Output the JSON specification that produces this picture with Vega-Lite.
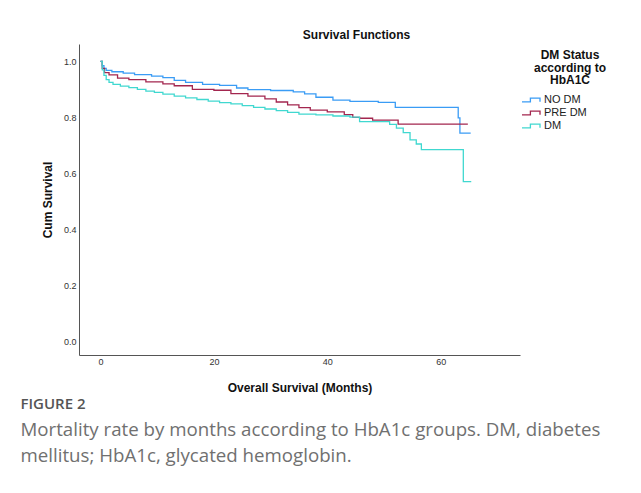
{
  "$schema": "https://vega.github.io/schema/vega-lite/v6.json",
  "background": "white",
  "padding": {"left": 20, "top": 29, "right": 5, "bottom": 5},
  "title": {
    "text": "FIGURE 2",
    "subtitle": ["Mortality rate by months according to HbA1c groups. DM, diabetes", "mellitus; HbA1c, glycated hemoglobin."],
    "orient": "bottom",
    "anchor": "start",
    "frame": "bounds",
    "dx": -21,
    "offset": 4,
    "font": "Open Sans",
    "fontSize": 15,
    "fontWeight": 600,
    "color": "#555555",
    "subtitleFont": "Open Sans",
    "subtitleFontSize": 18.7,
    "subtitleColor": "#707070",
    "subtitleLineHeight": 26,
    "subtitlePadding": 9
  },
  "vconcat": [
    {
      "width": 441,
      "height": 311,
      "title": {
        "text": "Survival Functions",
        "anchor": "middle",
        "frame": "group",
        "dx": 57,
        "offset": 2,
        "font": "Liberation Sans",
        "fontSize": 12,
        "fontWeight": "bold",
        "color": "#111111"
      },
      "data": {
        "values": [
          {"g": "NO DM", "m": 0, "s": 1.0},
          {"g": "NO DM", "m": 0.3, "s": 0.985},
          {"g": "NO DM", "m": 0.6, "s": 0.975},
          {"g": "NO DM", "m": 1, "s": 0.968},
          {"g": "NO DM", "m": 2, "s": 0.963},
          {"g": "NO DM", "m": 4, "s": 0.958},
          {"g": "NO DM", "m": 6, "s": 0.953},
          {"g": "NO DM", "m": 9, "s": 0.947},
          {"g": "NO DM", "m": 11, "s": 0.942},
          {"g": "NO DM", "m": 13, "s": 0.932},
          {"g": "NO DM", "m": 15, "s": 0.925},
          {"g": "NO DM", "m": 18, "s": 0.918},
          {"g": "NO DM", "m": 21, "s": 0.914},
          {"g": "NO DM", "m": 24, "s": 0.905},
          {"g": "NO DM", "m": 26, "s": 0.899},
          {"g": "NO DM", "m": 30, "s": 0.896},
          {"g": "NO DM", "m": 34, "s": 0.891},
          {"g": "NO DM", "m": 36, "s": 0.884},
          {"g": "NO DM", "m": 38, "s": 0.872},
          {"g": "NO DM", "m": 41, "s": 0.862},
          {"g": "NO DM", "m": 44, "s": 0.857},
          {"g": "NO DM", "m": 49, "s": 0.854},
          {"g": "NO DM", "m": 52, "s": 0.836},
          {"g": "NO DM", "m": 63.1, "s": 0.798},
          {"g": "NO DM", "m": 63.4, "s": 0.744},
          {"g": "NO DM", "m": 65.3, "s": 0.744},
          {"g": "PRE DM", "m": 0, "s": 1.0},
          {"g": "PRE DM", "m": 0.3, "s": 0.975},
          {"g": "PRE DM", "m": 0.7, "s": 0.96},
          {"g": "PRE DM", "m": 1.5, "s": 0.952},
          {"g": "PRE DM", "m": 3, "s": 0.94},
          {"g": "PRE DM", "m": 5, "s": 0.935},
          {"g": "PRE DM", "m": 8, "s": 0.927},
          {"g": "PRE DM", "m": 11, "s": 0.92},
          {"g": "PRE DM", "m": 13, "s": 0.913},
          {"g": "PRE DM", "m": 16.2, "s": 0.9},
          {"g": "PRE DM", "m": 20, "s": 0.897},
          {"g": "PRE DM", "m": 23, "s": 0.885},
          {"g": "PRE DM", "m": 26, "s": 0.876},
          {"g": "PRE DM", "m": 29, "s": 0.866},
          {"g": "PRE DM", "m": 31, "s": 0.855},
          {"g": "PRE DM", "m": 33, "s": 0.845},
          {"g": "PRE DM", "m": 35, "s": 0.835},
          {"g": "PRE DM", "m": 37, "s": 0.826},
          {"g": "PRE DM", "m": 40, "s": 0.82},
          {"g": "PRE DM", "m": 43, "s": 0.81},
          {"g": "PRE DM", "m": 44.5, "s": 0.8},
          {"g": "PRE DM", "m": 45.7, "s": 0.797},
          {"g": "PRE DM", "m": 48, "s": 0.79},
          {"g": "PRE DM", "m": 52.5, "s": 0.776},
          {"g": "PRE DM", "m": 64.8, "s": 0.776},
          {"g": "DM", "m": 0, "s": 1.0},
          {"g": "DM", "m": 0.3, "s": 0.97},
          {"g": "DM", "m": 0.6, "s": 0.95},
          {"g": "DM", "m": 1, "s": 0.935},
          {"g": "DM", "m": 1.5, "s": 0.925},
          {"g": "DM", "m": 2.2, "s": 0.918},
          {"g": "DM", "m": 3.5, "s": 0.912},
          {"g": "DM", "m": 5, "s": 0.906},
          {"g": "DM", "m": 6.5, "s": 0.9},
          {"g": "DM", "m": 8, "s": 0.894},
          {"g": "DM", "m": 9.5, "s": 0.889},
          {"g": "DM", "m": 11, "s": 0.883},
          {"g": "DM", "m": 13, "s": 0.876},
          {"g": "DM", "m": 15, "s": 0.87},
          {"g": "DM", "m": 17, "s": 0.864},
          {"g": "DM", "m": 19, "s": 0.858},
          {"g": "DM", "m": 21, "s": 0.853},
          {"g": "DM", "m": 23, "s": 0.848},
          {"g": "DM", "m": 25, "s": 0.842},
          {"g": "DM", "m": 27, "s": 0.836},
          {"g": "DM", "m": 29, "s": 0.83},
          {"g": "DM", "m": 31, "s": 0.824},
          {"g": "DM", "m": 33, "s": 0.818},
          {"g": "DM", "m": 35, "s": 0.812},
          {"g": "DM", "m": 38, "s": 0.809},
          {"g": "DM", "m": 41, "s": 0.805},
          {"g": "DM", "m": 44, "s": 0.801},
          {"g": "DM", "m": 45.7, "s": 0.785},
          {"g": "DM", "m": 51, "s": 0.775},
          {"g": "DM", "m": 52.2, "s": 0.762},
          {"g": "DM", "m": 53.4, "s": 0.746},
          {"g": "DM", "m": 54.6, "s": 0.72},
          {"g": "DM", "m": 55.7, "s": 0.705},
          {"g": "DM", "m": 56.6, "s": 0.685},
          {"g": "DM", "m": 64, "s": 0.571},
          {"g": "DM", "m": 65.4, "s": 0.571}
        ]
      },
      "mark": {"type": "line", "interpolate": "step-after", "strokeWidth": 1.3},
      "encoding": {
        "x": {
          "field": "m",
          "type": "quantitative",
          "scale": {"domain": [-3.8, 74], "nice": false, "zero": false},
          "axis": {
            "title": "Overall Survival (Months)",
            "values": [0, 20, 40, 60],
            "ticks": false,
            "grid": false,
            "labelPadding": 2,
            "titlePadding": 16
          }
        },
        "y": {
          "field": "s",
          "type": "quantitative",
          "scale": {"domain": [-0.048, 1.062], "nice": false, "zero": false},
          "axis": {
            "title": "Cum Survival",
            "values": [0, 0.2, 0.4, 0.6, 0.8, 1.0],
            "format": ".1f",
            "ticks": false,
            "grid": false,
            "labelPadding": 3,
            "titlePadding": 9
          }
        },
        "color": {
          "field": "g",
          "type": "nominal",
          "scale": {"domain": ["NO DM", "PRE DM", "DM"], "range": ["#3a9cf5", "#a3264f", "#40d8d0"]},
          "legend": {
            "title": ["DM Status", "according to", "HbA1C"],
            "orient": "none",
            "legendX": 445,
            "legendY": 6,
            "titleFont": "Liberation Sans",
            "titleFontSize": 12,
            "titleFontWeight": "bold",
            "titleColor": "#111111",
            "titleAlign": "center",
            "titleAnchor": "middle",
            "titleLineHeight": 12.5,
            "titlePadding": 6,
            "labelFont": "Liberation Sans",
            "labelFontSize": 11,
            "labelColor": "#222222",
            "labelOffset": 6,
            "symbolType": "M-1.5,0.3H-0.1V-0.3H1.5V0.3",
            "symbolSize": 144,
            "symbolStrokeWidth": 1.3,
            "symbolFillColor": "transparent",
            "rowPadding": 1,
            "encode": {"title": {"update": {"dx": {"value": 15}}}}
          }
        }
      }
    }
  ],
  "config": {
    "view": {"stroke": null},
    "axis": {
      "domainColor": "#555555",
      "domainWidth": 1,
      "labelFont": "Liberation Sans",
      "labelFontSize": 9,
      "labelColor": "#333333",
      "titleFont": "Liberation Sans",
      "titleFontSize": 12,
      "titleFontWeight": "bold",
      "titleColor": "#111111"
    }
  }
}
